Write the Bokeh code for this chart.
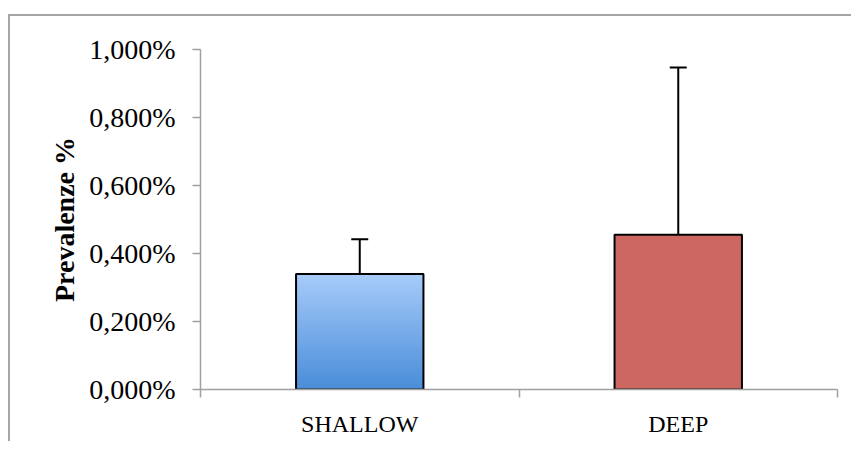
from bokeh.plotting import figure
from bokeh.models import (Range1d, LinearAxis, FixedTicker,
                          Whisker, TeeHead, ColumnDataSource)
from bokeh.embed import file_html
from bokeh.resources import INLINE

# ---- data ----
categories = ["SHALLOW", "DEEP"]
prevalence = [0.340, 0.455]          # percent
error_upper = [0.442, 0.947]         # percent (top of error bar)
y_ticks = [0.0, 0.2, 0.4, 0.6, 0.8, 1.0]
y_tick_labels = ["0,000%", "0,200%", "0,400%", "0,600%", "0,800%", "1,000%"]

# ---- style ----
AXIS_COLOR = "#a0a0a0"
SERIF = "Liberation Serif"
grad_top = (166, 203, 250)
grad_bottom = (74, 141, 216)
deep_color = "#cc6660"
BAR_W = 0.4

ncat = len(categories)
centers = [i + 0.5 for i in range(ncat)]
bounds = list(range(ncat + 1))

p = figure(x_range=Range1d(0, ncat),
           y_range=Range1d(0, 1.0),
           width=843, height=427,
           output_backend="svg", toolbar_location=None,
           x_axis_location=None,
           min_border_left=190, min_border_right=16,
           min_border_top=33, min_border_bottom=54)
p.styles = {"border-top": "2px solid #a6a6a6", "border-left": "2px solid #a6a6a6",
            "margin-top": "14px", "margin-left": "8px"}
p.outline_line_color = None
p.xgrid.grid_line_color = None
p.ygrid.grid_line_color = None
p.background_fill_color = "white"
p.border_fill_color = "white"

# gradient bar for SHALLOW: thin horizontal strips derived from the value
N = 80
sx, sb, st, sc = [], [], [], []
v = prevalence[0]
for i in range(N):
    f = i / (N - 1)
    r = int(grad_bottom[0] + (grad_top[0] - grad_bottom[0]) * f)
    g = int(grad_bottom[1] + (grad_top[1] - grad_bottom[1]) * f)
    b = int(grad_bottom[2] + (grad_top[2] - grad_bottom[2]) * f)
    sx.append(centers[0])
    sb.append(v * i / N)
    st.append(v * (i + 1) / N)
    sc.append("#%02x%02x%02x" % (r, g, b))
strips = ColumnDataSource(dict(x=sx, bottom=sb, top=st, color=sc))
p.vbar(x="x", bottom="bottom", top="top", width=BAR_W, fill_color="color",
       line_color="color", line_width=1.2, source=strips)

# DEEP flat bar
p.vbar(x=[centers[1]], top=[prevalence[1]], width=BAR_W, fill_color=deep_color,
       line_color=None)

# outlines
src = ColumnDataSource(dict(x=centers, val=prevalence, up=error_upper))
p.vbar(x="x", top="val", width=BAR_W, fill_color=None, line_color="black",
       line_width=2, source=src)

# error bars
w = Whisker(source=src, base="x", lower="val", upper="up",
            line_color="black", line_width=2,
            upper_head=TeeHead(size=17, line_color="black", line_width=2),
            lower_head=None, level="overlay")
p.add_layout(w)

# y axis
ya = p.yaxis[0]
ya.ticker = FixedTicker(ticks=y_ticks)
ya.major_label_overrides = {t: l for t, l in zip(y_ticks, y_tick_labels)}
ya.minor_tick_line_color = None
ya.major_tick_out = 8
ya.major_tick_in = 0
ya.axis_line_color = AXIS_COLOR
ya.major_tick_line_color = AXIS_COLOR
ya.axis_line_width = 1.5
ya.major_tick_line_width = 1.5
ya.major_label_text_font = SERIF
ya.major_label_text_font_size = "28px"
ya.major_label_text_color = "black"
ya.major_label_standoff = 17
ya.axis_label = "Prevalenze %"
ya.axis_label_text_font = SERIF
ya.axis_label_text_font_style = "bold"
ya.axis_label_text_font_size = "28px"
ya.axis_label_text_color = "black"
ya.axis_label_standoff = 6

# x axis: category boundaries with ticks
bax = LinearAxis(ticker=FixedTicker(ticks=bounds),
                 major_label_overrides={b: "" for b in bounds},
                 major_tick_out=8, major_tick_in=0,
                 minor_tick_line_color=None,
                 axis_line_color=AXIS_COLOR, major_tick_line_color=AXIS_COLOR,
                 axis_line_width=1.5, major_tick_line_width=1.5,
                 major_label_standoff=0, major_label_text_font_size="1px")
p.add_layout(bax, "below")

# x axis: category names at bar centers
lax = LinearAxis(ticker=FixedTicker(ticks=centers),
                 major_label_overrides={c: n for c, n in zip(centers, categories)},
                 axis_line_color=None, major_tick_line_color=None,
                 minor_tick_line_color=None,
                 major_tick_out=0, major_tick_in=0,
                 major_label_standoff=13,
                 major_label_text_font=SERIF,
                 major_label_text_font_size="24px",
                 major_label_text_color="black")
p.add_layout(lax, "below")

open("out.html", "w").write(file_html(p, INLINE))
